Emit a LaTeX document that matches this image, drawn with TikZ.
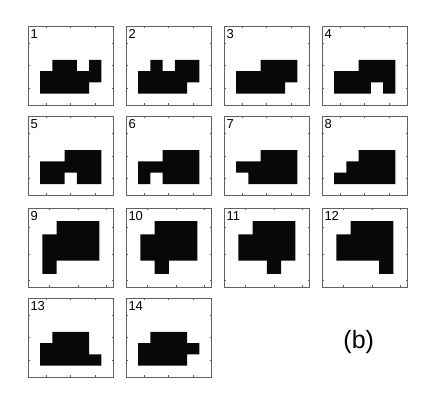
\documentclass[tikz,border=0pt]{standalone}
\usepackage{fontspec}
\setmainfont{Liberation Sans}
\tikzset{
 frame/.style={draw=black!62, line width=0.8pt},
 blob/.style={fill=black!97},
 tickline/.style={draw=black!62, line width=0.6pt},
 numlabel/.style={inner sep=0pt, anchor=base west, font=\fontsize{13}{13}\selectfont},
}
\newcommand\mypanel[7]{%
 \pgfmathsetmacro\cw{85.5/#4}%
 \pgfmathsetmacro\ch{79/#4}%
 \begin{scope}[shift={(#2,405-#3-79)}, x=\cw pt, y=\ch pt]
  \fill[blob] #7 -- cycle;
  \draw[frame] (0,0) rectangle (#4,#4);
  \foreach \t in {1.5,3.5,5.5} {\draw[tickline] (\t,0) -- ++(0,2pt) (\t,#4) -- ++(0,-2pt);}
  \foreach \t in {#5} {\draw[tickline] (0,\t) -- ++(2pt,0) (#4,\t) -- ++(-2pt,0);}
  \node[numlabel, xshift=2.3pt, yshift=-12.3pt] (#1) at (0,#4) {#6};
 \end{scope}}
\begin{document}
\begin{tikzpicture}[x=1pt,y=1pt]
\useasboundingbox[fill=white] (0,0) rectangle (436,405);
% row 1
\mypanel{l1}{28}{26}{7}{1.5,3.5,5.5}{1}{(1,1)--(5,1)--(5,2)--(6,2)--(6,4)--(5,4)--(5,3)--(4,3)--(4,4)--(2,4)--(2,3)--(1,3)}
\mypanel{l2}{126}{26}{7}{1.5,3.5,5.5}{2}{(1,1)--(5,1)--(5,2)--(6,2)--(6,4)--(4,4)--(4,3)--(3,3)--(3,4)--(2,4)--(2,3)--(1,3)}
\mypanel{l3}{224}{26}{7}{1.5,3.5,5.5}{3}{(1,1)--(5,1)--(5,2)--(6,2)--(6,4)--(3,4)--(3,3)--(1,3)}
\mypanel{l4}{322}{26}{7}{1.5,3.5,5.5}{4}{(1,1)--(4,1)--(4,2)--(5,2)--(5,1)--(6,1)--(6,4)--(3,4)--(3,3)--(1,3)}
% row 2
\mypanel{l5}{28}{116.3}{7}{1.5,3.5,5.5}{5}{(1,1)--(3,1)--(3,2)--(4,2)--(4,1)--(6,1)--(6,4)--(3,4)--(3,3)--(1,3)}
\mypanel{l6}{126}{116.3}{7}{1.5,3.5,5.5}{6}{(1,1)--(2,1)--(2,2)--(3,2)--(3,1)--(6,1)--(6,4)--(3,4)--(3,3)--(1,3)}
\mypanel{l7}{224}{116.3}{7}{1.5,3.5,5.5}{7}{(2,1)--(6,1)--(6,4)--(3,4)--(3,3)--(1,3)--(1,2)--(2,2)}
\mypanel{l8}{322}{116.3}{7}{1.5,3.5,5.5}{8}{(1,1)--(6,1)--(6,4)--(3,4)--(3,3)--(2,3)--(2,2)--(1,2)}
% row 3
\mypanel{l9}{28}{208}{6}{0.5,2.5,4.5}{9}{(1,1)--(2,1)--(2,2)--(5,2)--(5,5)--(2,5)--(2,4)--(1,4)}
\mypanel{l10}{126}{208}{6}{0.5,2.5,4.5}{10}{(2,1)--(3,1)--(3,2)--(5,2)--(5,5)--(2,5)--(2,4)--(1,4)--(1,2)--(2,2)}
\mypanel{l11}{224}{208}{6}{0.5,2.5,4.5}{11}{(1,2)--(3,2)--(3,1)--(4,1)--(4,2)--(5,2)--(5,5)--(2,5)--(2,4)--(1,4)}
\mypanel{l12}{322}{208}{6}{0.5,2.5,4.5}{12}{(1,2)--(4,2)--(4,1)--(5,1)--(5,5)--(2,5)--(2,4)--(1,4)}
% row 4
\mypanel{l13}{28}{298}{7}{1.5,3.5,5.5}{13}{(1,1)--(6,1)--(6,2)--(5,2)--(5,4)--(2,4)--(2,3)--(1,3)}
\mypanel{l14}{126}{298}{7}{1.5,3.5,5.5}{14}{(1,1)--(5,1)--(5,2)--(6,2)--(6,3)--(5,3)--(5,4)--(2,4)--(2,3)--(1,3)}
\node[inner sep=0pt, anchor=base, font=\fontsize{25}{25}\selectfont] (tag) at (358.7,57) {(b)};
\end{tikzpicture}
\end{document}
